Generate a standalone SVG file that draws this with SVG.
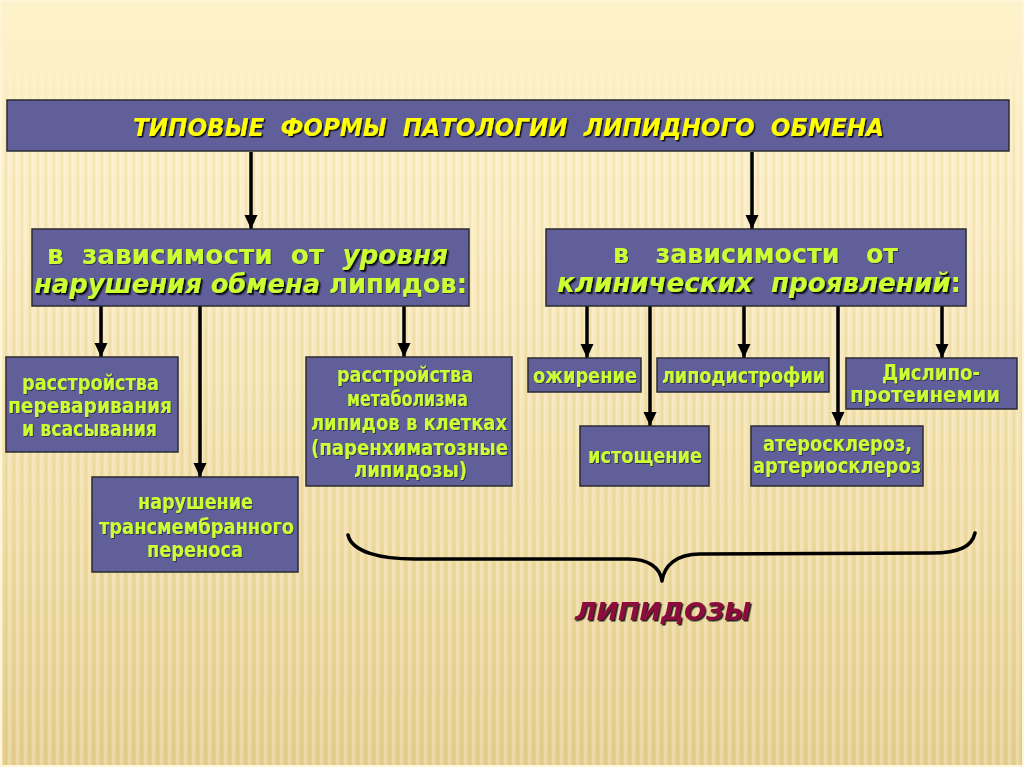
<svg xmlns="http://www.w3.org/2000/svg" width="1024" height="767" viewBox="0 0 1024 767">
<defs>
<linearGradient id="bg" x1="0" y1="0" x2="0" y2="1">
<stop offset="0" stop-color="#FEF2CB"/>
<stop offset="0.3" stop-color="#FBEBBE"/>
<stop offset="0.7" stop-color="#F1DDA3"/>
<stop offset="1" stop-color="#E6CF8E"/>
</linearGradient>
<linearGradient id="fadeG" x1="0" y1="0" x2="0" y2="1">
<stop offset="0" stop-color="#000"/>
<stop offset="0.06" stop-color="#000"/>
<stop offset="0.2" stop-color="#fff"/>
<stop offset="1" stop-color="#fff"/>
</linearGradient>
<mask id="fade"><rect width="1024" height="767" fill="url(#fadeG)"/></mask>
<pattern id="stripes" width="8" height="20" patternUnits="userSpaceOnUse">
<rect x="0" y="0" width="3" height="20" fill="#fff" fill-opacity="0.22"/>
<rect x="5" y="0" width="2" height="20" fill="#9a7a30" fill-opacity="0.08"/>
</pattern>
<filter id="ts" x="-5%" y="-20%" width="110%" height="140%">
<feDropShadow dx="1.5" dy="1.5" stdDeviation="0.4" flood-color="#000" flood-opacity="0.85"/>
</filter>
<filter id="ts2" x="-5%" y="-20%" width="110%" height="140%">
<feDropShadow dx="1" dy="1" stdDeviation="0.5" flood-color="#000" flood-opacity="0.45"/>
</filter>
<marker id="ah" markerWidth="14" markerHeight="14" viewBox="0 0 14 14" refX="14" refY="7" orient="auto" markerUnits="userSpaceOnUse">
<path d="M0,0.5 L14,7 L0,13.5 Z" fill="#000"/>
</marker>
<style>
.box{fill:#615F99;stroke:#2b2b33;stroke-width:1.5}
.t{font-family:"DejaVu Sans","Liberation Sans",sans-serif;font-weight:bold;fill:#CCFF33;filter:url(#ts2)}
.pre{white-space:pre}
.leaf{font-size:21px}
.cat{font-size:26px}
.it{font-style:italic;filter:url(#ts)}
.title{font-family:"DejaVu Sans","Liberation Sans",sans-serif;font-weight:bold;font-style:italic;font-size:24px;fill:#FFFF00;filter:url(#ts);white-space:pre}
.lip{font-family:"DejaVu Sans","Liberation Sans",sans-serif;font-weight:bold;font-style:italic;font-size:25px;fill:#8C0C3C;filter:url(#ts)}
.conn line{stroke:#000;stroke-width:3.5;marker-end:url(#ah)}
.brace{fill:none;stroke:#000;stroke-width:3.5;stroke-linecap:round;stroke-linejoin:round}
</style>
</defs>

<rect width="1024" height="767" fill="url(#bg)"/>
<rect width="1024" height="767" fill="url(#stripes)" mask="url(#fade)"/>
<rect x="1" y="1" width="1022" height="765" fill="none" stroke="#fff6d8" stroke-width="2"/>

<g id="connectors" class="conn">
<line x1="251" y1="152" x2="251" y2="229"/>
<line x1="752" y1="152" x2="752" y2="229"/>
<line x1="101" y1="306" x2="101" y2="357"/>
<line x1="200" y1="306" x2="200" y2="477"/>
<line x1="404" y1="306" x2="404" y2="357"/>
<line x1="587" y1="306" x2="587" y2="358"/>
<line x1="650" y1="306" x2="650" y2="426"/>
<line x1="744" y1="306" x2="744" y2="358"/>
<line x1="838" y1="306" x2="838" y2="426"/>
<line x1="942" y1="306" x2="942" y2="358"/>
</g>

<g id="title">
<rect class="box" x="7" y="100" width="1002" height="51"/>
<text class="title" x="133" y="136" textLength="751" lengthAdjust="spacingAndGlyphs">ТИПОВЫЕ  ФОРМЫ  ПАТОЛОГИИ  ЛИПИДНОГО  ОБМЕНА</text>
</g>

<g id="cat-level">
<rect class="box" x="32" y="229" width="437" height="77"/>
<text class="t cat pre" x="47" y="264" textLength="401" lengthAdjust="spacingAndGlyphs">в  зависимости  от  <tspan class="it">уровня</tspan></text>
<text class="t cat" x="34" y="293" textLength="433" lengthAdjust="spacingAndGlyphs"><tspan class="it">нарушения обмена</tspan> липидов:</text>
</g>

<g id="cat-clinic">
<rect class="box" x="546" y="229" width="420" height="77"/>
<text class="t cat pre" x="613" y="263" textLength="285" lengthAdjust="spacingAndGlyphs">в   зависимости   от</text>
<text class="t cat pre" x="557" y="292" textLength="404" lengthAdjust="spacingAndGlyphs"><tspan class="it">клинических  проявлений</tspan>:</text>
</g>

<g id="leaf-digest">
<rect class="box" x="6" y="357" width="172" height="95"/>
<text class="t leaf" x="22" y="390" textLength="137" lengthAdjust="spacingAndGlyphs">расстройства</text>
<text class="t leaf" x="8" y="413" textLength="164" lengthAdjust="spacingAndGlyphs">переваривания</text>
<text class="t leaf" x="22" y="436" textLength="135" lengthAdjust="spacingAndGlyphs">и всасывания</text>
</g>

<g id="leaf-transmembrane">
<rect class="box" x="92" y="477" width="206" height="95"/>
<text class="t leaf" x="138" y="509" textLength="115" lengthAdjust="spacingAndGlyphs">нарушение</text>
<text class="t leaf" x="99" y="534" textLength="195" lengthAdjust="spacingAndGlyphs">трансмембранного</text>
<text class="t leaf" x="147" y="557" textLength="96" lengthAdjust="spacingAndGlyphs">переноса</text>
</g>

<g id="leaf-metabolism">
<rect class="box" x="306" y="357" width="206" height="129"/>
<text class="t leaf" x="337" y="382" textLength="136" lengthAdjust="spacingAndGlyphs">расстройства</text>
<text class="t leaf" x="347" y="406" textLength="121" lengthAdjust="spacingAndGlyphs">метаболизма</text>
<text class="t leaf" x="311" y="430" textLength="196" lengthAdjust="spacingAndGlyphs">липидов в клетках</text>
<text class="t leaf" x="311" y="455" textLength="197" lengthAdjust="spacingAndGlyphs">(паренхиматозные</text>
<text class="t leaf" x="354" y="477" textLength="113" lengthAdjust="spacingAndGlyphs">липидозы)</text>
</g>

<g id="leaf-obesity">
<rect class="box" x="528" y="358" width="113" height="34"/>
<text class="t leaf" x="533" y="383" textLength="104" lengthAdjust="spacingAndGlyphs">ожирение</text>
</g>

<g id="leaf-lipodystrophy">
<rect class="box" x="657" y="358" width="172" height="34"/>
<text class="t leaf" x="662" y="383" textLength="163" lengthAdjust="spacingAndGlyphs">липодистрофии</text>
</g>

<g id="leaf-dyslipo">
<rect class="box" x="846" y="358" width="171" height="51"/>
<text class="t leaf" x="882" y="380" textLength="98" lengthAdjust="spacingAndGlyphs">Дислипо-</text>
<text class="t leaf" x="850" y="402" textLength="150" lengthAdjust="spacingAndGlyphs">протеинемии</text>
</g>

<g id="leaf-exhaustion">
<rect class="box" x="580" y="426" width="129" height="60"/>
<text class="t leaf" x="588" y="463" textLength="114" lengthAdjust="spacingAndGlyphs">истощение</text>
</g>

<g id="leaf-athero">
<rect class="box" x="751" y="426" width="172" height="60"/>
<text class="t leaf" x="763" y="451" textLength="149" lengthAdjust="spacingAndGlyphs">атеросклероз,</text>
<text class="t leaf" x="753" y="473" textLength="168" lengthAdjust="spacingAndGlyphs">артериосклероз</text>
</g>

<g id="lipidoses">
<path class="brace" d="M348,535 C352,552 380,559 415,559 L628,559 C648,559 660,567 662,581 C664,566 676,554 700,554 L932,553 C960,553 972,546 975,533"/>
<text class="lip" x="575" y="620" textLength="176" lengthAdjust="spacingAndGlyphs">ЛИПИДОЗЫ</text>
</g>
</svg>
